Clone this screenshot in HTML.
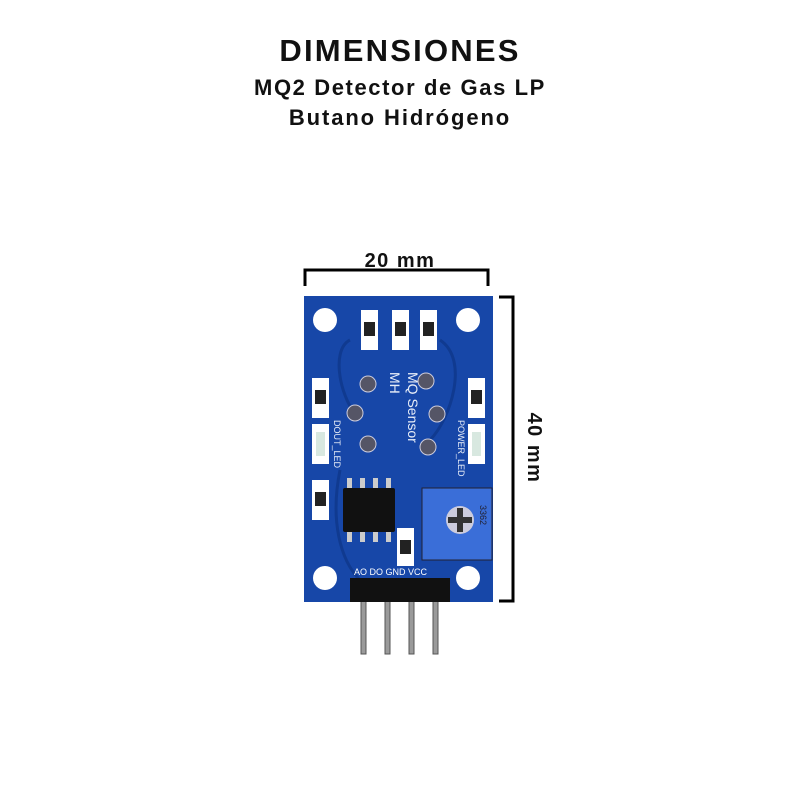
<!DOCTYPE html>
<html><head><style>
html,body{margin:0;padding:0;background:#fff;width:800px;height:800px;overflow:hidden}
.t{position:absolute;left:0;width:800px;text-align:center;font-family:"Liberation Sans",sans-serif;font-weight:bold;color:#111}
</style></head><body>
<div class="t" style="top:33px;font-size:31px;letter-spacing:2.2px">DIMENSIONES</div>
<div class="t" style="top:75px;font-size:22px;letter-spacing:1.6px">MQ2 Detector de Gas LP</div>
<div class="t" style="top:105px;font-size:22px;letter-spacing:1.9px">Butano Hidrógeno</div>
<svg width="800" height="800" style="position:absolute;left:0;top:0" font-family="Liberation Sans, sans-serif">
<g stroke="#000" stroke-width="3" fill="none">
<path d="M305 286 V270 H488 V286"/>
<path d="M499 297 H513 V601 H499"/>
</g>
<text x="400" y="267" text-anchor="middle" font-size="20" font-weight="bold" fill="#111" letter-spacing="1.5">20 mm</text>
<text x="0" y="0" transform="translate(528,448) rotate(90)" text-anchor="middle" font-size="20" font-weight="bold" fill="#111" letter-spacing="1.5">40 mm</text>
<g fill="#9a9a9a" stroke="#555" stroke-width="1">
<rect x="361" y="600" width="5" height="54"/><rect x="385" y="600" width="5" height="54"/>
<rect x="409" y="600" width="5" height="54"/><rect x="433" y="600" width="5" height="54"/>
</g>
<rect x="304" y="296" width="189" height="306" fill="#1747a8"/>
<g fill="none" stroke="#103a90" stroke-width="3">
<path d="M350 340 C330 350 340 400 360 420"/><path d="M440 340 C470 360 450 420 430 440"/>
<path d="M340 470 C330 520 340 560 360 580"/>
</g>
<g fill="#fff">
<circle cx="325" cy="320" r="12"/><circle cx="468" cy="320" r="12"/>
<circle cx="325" cy="578" r="12"/><circle cx="468" cy="578" r="12"/>
</g>
<g fill="#fff"><rect x="361" y="310" width="17" height="40"/><rect x="392" y="310" width="17" height="40"/><rect x="420" y="310" width="17" height="40"/>
<rect x="312" y="378" width="17" height="40"/><rect x="312" y="424" width="17" height="40"/><rect x="312" y="480" width="17" height="40"/>
<rect x="468" y="378" width="17" height="40"/><rect x="468" y="424" width="17" height="40"/><rect x="397" y="528" width="17" height="38"/></g>
<g fill="#222"><rect x="364" y="322" width="11" height="14"/><rect x="395" y="322" width="11" height="14"/><rect x="423" y="322" width="11" height="14"/>
<rect x="315" y="390" width="11" height="14"/><rect x="315" y="492" width="11" height="14"/><rect x="471" y="390" width="11" height="14"/><rect x="400" y="540" width="11" height="14"/></g>
<g fill="#d8e8e0"><rect x="316" y="432" width="9" height="24"/><rect x="472" y="432" width="9" height="24"/></g>
<g fill="#556" stroke="#ccd" stroke-width="1">
<circle cx="368" cy="384" r="8"/><circle cx="355" cy="413" r="8"/><circle cx="368" cy="444" r="8"/>
<circle cx="426" cy="381" r="8"/><circle cx="437" cy="414" r="8"/><circle cx="428" cy="447" r="8"/>
</g>
<text transform="translate(390,372) rotate(90)" font-size="14" fill="#e8eef8">MH</text>
<text transform="translate(394,372) rotate(90)" font-size="14" fill="#e8eef8" dy="-14">MQ Sensor</text>
<text transform="translate(334,420) rotate(90)" font-size="9" fill="#e8eef8">DOUT_LED</text>
<text transform="translate(458,420) rotate(90)" font-size="9" fill="#e8eef8">POWER_LED</text>
<g fill="#ccc"><rect x="347" y="478" width="5" height="12"/><rect x="360" y="478" width="5" height="12"/><rect x="373" y="478" width="5" height="12"/><rect x="386" y="478" width="5" height="12"/>
<rect x="347" y="530" width="5" height="12"/><rect x="360" y="530" width="5" height="12"/><rect x="373" y="530" width="5" height="12"/><rect x="386" y="530" width="5" height="12"/></g>
<rect x="343" y="488" width="52" height="44" fill="#111" rx="2"/>
<rect x="422" y="488" width="70" height="72" fill="#3a6ed8" stroke="#223" stroke-width="1"/>
<circle cx="460" cy="520" r="14" fill="#ccd"/>
<rect x="457" y="508" width="6" height="24" fill="#333"/><rect x="448" y="517" width="24" height="6" fill="#333"/>
<text transform="translate(480,505) rotate(90)" font-size="9" fill="#223">3362</text>
<rect x="350" y="578" width="100" height="24" fill="#111"/>
<text x="354" y="575" font-size="9" fill="#fff">AO  DO  GND  VCC</text>
</svg>
</body></html>
